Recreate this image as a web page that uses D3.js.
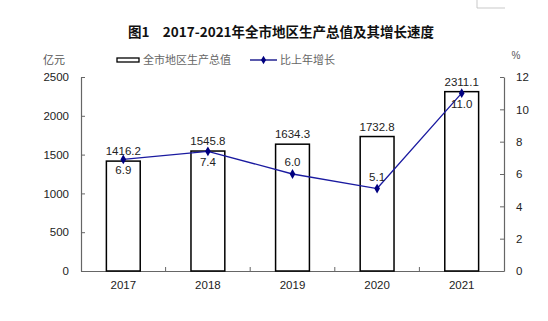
<!DOCTYPE html>
<html><head><meta charset="utf-8">
<script src="https://cdn.jsdelivr.net/npm/d3@7/dist/d3.min.js"></script>
<style>
body{margin:0;background:#fff;}
text{font-family:"Liberation Sans",Arial,"Noto Sans CJK SC",sans-serif;}
.cn{font-family:"Noto Sans CJK SC",sans-serif;}
</style></head>
<body><svg id="c" width="548" height="321"></svg>
<script>
const years = ["2017","2018","2019","2020","2021"];
const gdp = [1416.2, 1545.8, 1634.3, 1732.8, 2311.1];
const growth = [6.9, 7.4, 6.0, 5.1, 11.0];
const growthLabelPos = ["below","below","above","above","below"];
const leftTicks = [0,500,1000,1500,2000,2500];
const rightTicks = [0,2,4,6,8,10,12];

const svg = d3.select("#c");
const L = 81, R = 504, T = 77, B = 271;
const x = d3.scaleBand().domain(years).range([L, R]).paddingInner(0.6).paddingOuter(0.3);
const xb = d3.scaleBand().domain(years).range([L, R]);
const yL = d3.scaleLinear().domain([0,2500]).range([B, T]);
const yR = d3.scaleLinear().domain([0,12]).range([B, T]);
const axisColor = "#666";

// title
svg.append("text").attr("class","cn").attr("x",281).attr("y",37).attr("text-anchor","middle")
  .attr("font-size",13.5).attr("font-weight","bold").attr("fill","#111")
  .text("图1\u30002017-2021年全市地区生产总值及其增长速度");

// units
svg.append("text").attr("class","cn").attr("x",54).attr("y",64).attr("text-anchor","middle")
  .attr("font-size",11).attr("fill","#555").text("亿元");
svg.append("text").attr("x",516).attr("y",59).attr("text-anchor","middle")
  .attr("font-size",10).attr("fill","#555").text("%");

// legend
svg.append("rect").attr("x",117).attr("y",58).attr("width",22).attr("height",4)
  .attr("fill","#fff").attr("stroke","#000").attr("stroke-width",1.3);
svg.append("text").attr("class","cn").attr("x",143).attr("y",64).attr("font-size",11)
  .attr("fill","#666").text("全市地区生产总值");
svg.append("line").attr("x1",250).attr("x2",277).attr("y1",60).attr("y2",60)
  .attr("stroke","#000080").attr("stroke-width",1.3);
svg.append("path").attr("d",d3.symbol(d3.symbolDiamond,22)()).attr("transform","translate(263.5,60)").attr("fill","#000080");
svg.append("text").attr("class","cn").attr("x",280).attr("y",64).attr("font-size",11)
  .attr("fill","#666").text("比上年增长");

// left axis
const gl = svg.append("g").attr("transform",`translate(${L},0)`)
  .call(d3.axisLeft(yL).tickValues(leftTicks).tickFormat(d3.format("d")).tickSizeInner(-4).tickSizeOuter(0).tickPadding(12));
// right axis
const gr = svg.append("g").attr("transform",`translate(${R},0)`)
  .call(d3.axisRight(yR).tickValues(rightTicks).tickFormat(d3.format("d")).tickSizeInner(-4).tickSizeOuter(0).tickPadding(12));
// bottom axis
const gb = svg.append("g").attr("transform",`translate(0,${B})`)
  .call(d3.axisBottom(xb).tickSize(0).tickPadding(10));
[gl,gr,gb].forEach(g=>{
  g.select(".domain").attr("stroke",axisColor).attr("stroke-width",1.2);
  g.selectAll(".tick line").attr("stroke",axisColor);
  g.selectAll("text").attr("font-size",11.5).attr("fill","#222").attr("font-family","Liberation Sans, Arial, sans-serif");
});
// category separator ticks
svg.append("g").selectAll("line").data(years.slice(1)).join("line")
  .attr("x1",d=>xb(d)).attr("x2",d=>xb(d)).attr("y1",B).attr("y2",B-4).attr("stroke",axisColor);

// bars
svg.append("g").selectAll("rect").data(years).join("rect")
  .attr("x",d=>x(d)).attr("width",x.bandwidth())
  .attr("y",(d,i)=>yL(gdp[i])).attr("height",(d,i)=>B-yL(gdp[i]))
  .attr("fill","#fff").attr("stroke","#000").attr("stroke-width",1.5);
svg.append("g").selectAll("text").data(years).join("text")
  .attr("x",d=>xb(d)+xb.bandwidth()/2).attr("y",(d,i)=>yL(gdp[i])-6)
  .attr("text-anchor","middle").attr("font-size",11.5).attr("fill","#222")
  .text((d,i)=>gdp[i].toFixed(1));

// line
const cx = d=>xb(d)+xb.bandwidth()/2;
svg.append("path").datum(years)
  .attr("d",d3.line().x(d=>cx(d)).y((d,i)=>yR(growth[i])))
  .attr("fill","none").attr("stroke","#1a1aa0").attr("stroke-width",1.3);
svg.append("g").selectAll("path").data(years).join("path")
  .attr("d",d3.symbol(d3.symbolDiamond,28)())
  .attr("transform",(d,i)=>`translate(${cx(d)},${yR(growth[i])})`).attr("fill","#000080");
svg.append("g").selectAll("text").data(years).join("text")
  .attr("x",d=>cx(d)).attr("y",(d,i)=>growthLabelPos[i]==="below"?yR(growth[i])+15:yR(growth[i])-8)
  .attr("text-anchor","middle").attr("font-size",11.5).attr("fill","#222")
  .text((d,i)=>growth[i].toFixed(1));

// corner artifact
svg.append("path").attr("d","M477,0V8H505").attr("fill","none").attr("stroke","#bbb").attr("stroke-width",0.8);
</script></body></html>
